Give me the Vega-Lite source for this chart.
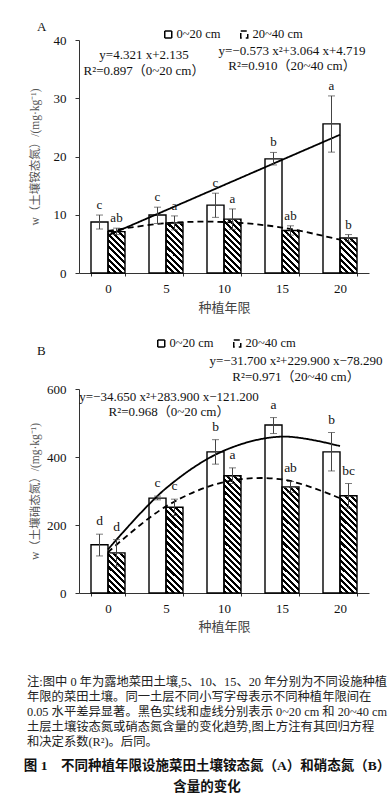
{
"$schema": "https://vega.github.io/schema/vega-lite/v6.json",
"background": "white",
"padding": {"left": 23, "top": 21, "right": 0, "bottom": 0},
"config": {
  "view": {"stroke": null},
  "font": "Liberation Serif, Noto Sans CJK SC",
  "axis": {"grid": false, "domainColor": "#333", "tickColor": "#333", "labelColor": "#111", "labelFont": "Liberation Serif", "labelFontSize": 13, "titleFont": "Liberation Serif, Noto Sans CJK SC", "titleFontWeight": "normal", "titleColor": "#444"},
  "legend": {"symbolType": "square", "symbolSize": 49, "symbolStrokeColor": "#000", "symbolStrokeWidth": 1.5, "labelFont": "Liberation Serif", "labelFontSize": 12.5, "labelColor": "#111", "labelOffset": 2, "columnPadding": 16, "padding": 0}
},
"datasets": {
  "barsA": [
    {"year": "0", "depth": "0~20 cm", "value": 8.75, "lo": 7.55, "hi": 9.95, "letter": "c"},
    {"year": "5", "depth": "0~20 cm", "value": 9.95, "lo": 8.5, "hi": 11.3, "letter": "c"},
    {"year": "10", "depth": "0~20 cm", "value": 11.65, "lo": 9.55, "hi": 13.7, "letter": "c"},
    {"year": "15", "depth": "0~20 cm", "value": 19.6, "lo": 18.55, "hi": 20.7, "letter": "b"},
    {"year": "20", "depth": "0~20 cm", "value": 25.6, "lo": 20.75, "hi": 30.4, "letter": "a"},
    {"year": "0", "depth": "20~40 cm", "value": 7.1, "lo": 6.6, "hi": 7.7, "letter": "ab"},
    {"year": "5", "depth": "20~40 cm", "value": 8.6, "lo": 7.4, "hi": 9.8, "letter": "a"},
    {"year": "10", "depth": "20~40 cm", "value": 9.25, "lo": 7.5, "hi": 11.0, "letter": "a"},
    {"year": "15", "depth": "20~40 cm", "value": 7.3, "lo": 6.5, "hi": 8.1, "letter": "ab"},
    {"year": "20", "depth": "20~40 cm", "value": 6.0, "lo": 5.45, "hi": 6.6, "letter": "b"}
  ],
  "fitA": [
    {"year": "0", "depth": "0~20 cm", "fit": 6.456},
    {"year": "5", "depth": "0~20 cm", "fit": 10.777},
    {"year": "10", "depth": "0~20 cm", "fit": 15.098},
    {"year": "15", "depth": "0~20 cm", "fit": 19.419},
    {"year": "20", "depth": "0~20 cm", "fit": 23.74},
    {"year": "0", "depth": "20~40 cm", "fit": 7.21},
    {"year": "5", "depth": "20~40 cm", "fit": 8.555},
    {"year": "10", "depth": "20~40 cm", "fit": 8.754},
    {"year": "15", "depth": "20~40 cm", "fit": 7.807},
    {"year": "20", "depth": "20~40 cm", "fit": 5.714}
  ],
  "barsB": [
    {"year": "0", "depth": "0~20 cm", "value": 142, "lo": 109, "hi": 173, "letter": "d"},
    {"year": "5", "depth": "0~20 cm", "value": 279, "lo": 274, "hi": 285, "letter": "c"},
    {"year": "10", "depth": "0~20 cm", "value": 415, "lo": 379, "hi": 451, "letter": "b"},
    {"year": "15", "depth": "0~20 cm", "value": 494, "lo": 469, "hi": 516, "letter": "a"},
    {"year": "20", "depth": "0~20 cm", "value": 415, "lo": 359, "hi": 472, "letter": "b"},
    {"year": "0", "depth": "20~40 cm", "value": 118, "lo": 79, "hi": 157, "letter": "d"},
    {"year": "5", "depth": "20~40 cm", "value": 252, "lo": 228, "hi": 276, "letter": "c"},
    {"year": "10", "depth": "20~40 cm", "value": 345, "lo": 322, "hi": 368, "letter": "a"},
    {"year": "15", "depth": "20~40 cm", "value": 312, "lo": 296, "hi": 328, "letter": "ab"},
    {"year": "20", "depth": "20~40 cm", "value": 286, "lo": 250, "hi": 322, "letter": "bc"}
  ],
  "fitB": [
    {"year": "0", "depth": "0~20 cm", "fit": 128.05},
    {"year": "5", "depth": "0~20 cm", "fit": 308.0},
    {"year": "10", "depth": "0~20 cm", "fit": 418.65},
    {"year": "15", "depth": "0~20 cm", "fit": 460.0},
    {"year": "20", "depth": "0~20 cm", "fit": 432.05},
    {"year": "0", "depth": "20~40 cm", "fit": 119.91},
    {"year": "5", "depth": "20~40 cm", "fit": 254.71},
    {"year": "10", "depth": "20~40 cm", "fit": 326.11},
    {"year": "15", "depth": "20~40 cm", "fit": 334.11},
    {"year": "20", "depth": "20~40 cm", "fit": 278.71}
  ]
},
"title": {"text": ["图 1　不同种植年限设施菜田土壤铵态氮（A）和硝态氮（B）", "含量的变化"], "orient": "bottom", "anchor": "middle", "fontSize": 13.5, "lineHeight": 21, "fontWeight": "bold", "font": "Liberation Serif, Noto Sans CJK SC", "color": "#111", "offset": 11},
"vconcat": [
{
  "title": {"text": ["注:图中 0 年为露地菜田土壤,5、10、15、20 年分别为不同设施种植", "年限的菜田土壤。同一土层不同小写字母表示不同种植年限间在", "0.05 水平差异显著。黑色实线和虚线分别表示 0~20 cm 和 20~40 cm", "土层土壤铵态氮或硝态氮含量的变化趋势,图上方注有其回归方程", "和决定系数(R²)。后同。"], "orient": "bottom", "anchor": "start", "frame": "bounds", "align": "left", "fontSize": 12.3, "lineHeight": 15, "font": "Liberation Serif, Noto Sans CJK SC", "fontWeight": "normal", "color": "#222", "offset": 43, "dx": -2},
  "bounds": "flush",
  "spacing": 116,
  "resolve": {"scale": {"fill": "independent", "strokeDash": "independent", "xOffset": "independent"}, "legend": {"fill": "independent", "strokeDash": "independent"}},
  "vconcat": [
  {
    "width": 290, "height": 233,
    "title": {"text": "A", "anchor": "start", "frame": "bounds", "fontSize": 13, "font": "Liberation Serif", "fontWeight": "normal", "color": "#111", "offset": 0, "dx": 8, "dy": 6},
    "encoding": {"x": {"field": "year", "type": "ordinal", "title": "种植年限", "scale": {"type": "band", "domain": ["0", "5", "10", "15", "20"], "paddingInner": 0.4137931, "paddingOuter": 0.2068966}, "axis": {"labelAngle": 0, "tickBand": "extent", "tickSize": 3, "labelPadding": 6, "titlePadding": 6, "titleFontSize": 13, "titleFont": "Noto Sans CJK SC"}}},
    "layer": [
      {"data": {"name": "barsA"}, "transform": [{"filter": "datum.depth === '20~40 cm'"}],
       "mark": {"type": "bar", "stroke": null, "fill": {"gradient": "linear", "x1": 0, "y1": 1, "x2": 0.07787, "y2": -0.06728, "stops": [{"offset":0,"color":"#000"},{"offset":0.0125,"color":"#000"},{"offset":0.0125,"color":"#fff"},{"offset":0.025,"color":"#fff"},{"offset":0.025,"color":"#000"},{"offset":0.0375,"color":"#000"},{"offset":0.0375,"color":"#fff"},{"offset":0.05,"color":"#fff"},{"offset":0.05,"color":"#000"},{"offset":0.0625,"color":"#000"},{"offset":0.0625,"color":"#fff"},{"offset":0.075,"color":"#fff"},{"offset":0.075,"color":"#000"},{"offset":0.0875,"color":"#000"},{"offset":0.0875,"color":"#fff"},{"offset":0.1,"color":"#fff"},{"offset":0.1,"color":"#000"},{"offset":0.1125,"color":"#000"},{"offset":0.1125,"color":"#fff"},{"offset":0.125,"color":"#fff"},{"offset":0.125,"color":"#000"},{"offset":0.1375,"color":"#000"},{"offset":0.1375,"color":"#fff"},{"offset":0.15,"color":"#fff"},{"offset":0.15,"color":"#000"},{"offset":0.1625,"color":"#000"},{"offset":0.1625,"color":"#fff"},{"offset":0.175,"color":"#fff"},{"offset":0.175,"color":"#000"},{"offset":0.1875,"color":"#000"},{"offset":0.1875,"color":"#fff"},{"offset":0.2,"color":"#fff"},{"offset":0.2,"color":"#000"},{"offset":0.2125,"color":"#000"},{"offset":0.2125,"color":"#fff"},{"offset":0.225,"color":"#fff"},{"offset":0.225,"color":"#000"},{"offset":0.2375,"color":"#000"},{"offset":0.2375,"color":"#fff"},{"offset":0.25,"color":"#fff"},{"offset":0.25,"color":"#000"},{"offset":0.2625,"color":"#000"},{"offset":0.2625,"color":"#fff"},{"offset":0.275,"color":"#fff"},{"offset":0.275,"color":"#000"},{"offset":0.2875,"color":"#000"},{"offset":0.2875,"color":"#fff"},{"offset":0.3,"color":"#fff"},{"offset":0.3,"color":"#000"},{"offset":0.3125,"color":"#000"},{"offset":0.3125,"color":"#fff"},{"offset":0.325,"color":"#fff"},{"offset":0.325,"color":"#000"},{"offset":0.3375,"color":"#000"},{"offset":0.3375,"color":"#fff"},{"offset":0.35,"color":"#fff"},{"offset":0.35,"color":"#000"},{"offset":0.3625,"color":"#000"},{"offset":0.3625,"color":"#fff"},{"offset":0.375,"color":"#fff"},{"offset":0.375,"color":"#000"},{"offset":0.3875,"color":"#000"},{"offset":0.3875,"color":"#fff"},{"offset":0.4,"color":"#fff"},{"offset":0.4,"color":"#000"},{"offset":0.4125,"color":"#000"},{"offset":0.4125,"color":"#fff"},{"offset":0.425,"color":"#fff"},{"offset":0.425,"color":"#000"},{"offset":0.4375,"color":"#000"},{"offset":0.4375,"color":"#fff"},{"offset":0.45,"color":"#fff"},{"offset":0.45,"color":"#000"},{"offset":0.4625,"color":"#000"},{"offset":0.4625,"color":"#fff"},{"offset":0.475,"color":"#fff"},{"offset":0.475,"color":"#000"},{"offset":0.4875,"color":"#000"},{"offset":0.4875,"color":"#fff"},{"offset":0.5,"color":"#fff"},{"offset":0.5,"color":"#000"},{"offset":0.5125,"color":"#000"},{"offset":0.5125,"color":"#fff"},{"offset":0.525,"color":"#fff"},{"offset":0.525,"color":"#000"},{"offset":0.5375,"color":"#000"},{"offset":0.5375,"color":"#fff"},{"offset":0.55,"color":"#fff"},{"offset":0.55,"color":"#000"},{"offset":0.5625,"color":"#000"},{"offset":0.5625,"color":"#fff"},{"offset":0.575,"color":"#fff"},{"offset":0.575,"color":"#000"},{"offset":0.5875,"color":"#000"},{"offset":0.5875,"color":"#fff"},{"offset":0.6,"color":"#fff"},{"offset":0.6,"color":"#000"},{"offset":0.6125,"color":"#000"},{"offset":0.6125,"color":"#fff"},{"offset":0.625,"color":"#fff"},{"offset":0.625,"color":"#000"},{"offset":0.6375,"color":"#000"},{"offset":0.6375,"color":"#fff"},{"offset":0.65,"color":"#fff"},{"offset":0.65,"color":"#000"},{"offset":0.6625,"color":"#000"},{"offset":0.6625,"color":"#fff"},{"offset":0.675,"color":"#fff"},{"offset":0.675,"color":"#000"},{"offset":0.6875,"color":"#000"},{"offset":0.6875,"color":"#fff"},{"offset":0.7,"color":"#fff"},{"offset":0.7,"color":"#000"},{"offset":0.7125,"color":"#000"},{"offset":0.7125,"color":"#fff"},{"offset":0.725,"color":"#fff"},{"offset":0.725,"color":"#000"},{"offset":0.7375,"color":"#000"},{"offset":0.7375,"color":"#fff"},{"offset":0.75,"color":"#fff"},{"offset":0.75,"color":"#000"},{"offset":0.7625,"color":"#000"},{"offset":0.7625,"color":"#fff"},{"offset":0.775,"color":"#fff"},{"offset":0.775,"color":"#000"},{"offset":0.7875,"color":"#000"},{"offset":0.7875,"color":"#fff"},{"offset":0.8,"color":"#fff"},{"offset":0.8,"color":"#000"},{"offset":0.8125,"color":"#000"},{"offset":0.8125,"color":"#fff"},{"offset":0.825,"color":"#fff"},{"offset":0.825,"color":"#000"},{"offset":0.8375,"color":"#000"},{"offset":0.8375,"color":"#fff"},{"offset":0.85,"color":"#fff"},{"offset":0.85,"color":"#000"},{"offset":0.8625,"color":"#000"},{"offset":0.8625,"color":"#fff"},{"offset":0.875,"color":"#fff"},{"offset":0.875,"color":"#000"},{"offset":0.8875,"color":"#000"},{"offset":0.8875,"color":"#fff"},{"offset":0.9,"color":"#fff"},{"offset":0.9,"color":"#000"},{"offset":0.9125,"color":"#000"},{"offset":0.9125,"color":"#fff"},{"offset":0.925,"color":"#fff"},{"offset":0.925,"color":"#000"},{"offset":0.9375,"color":"#000"},{"offset":0.9375,"color":"#fff"},{"offset":0.95,"color":"#fff"},{"offset":0.95,"color":"#000"},{"offset":0.9625,"color":"#000"},{"offset":0.9625,"color":"#fff"},{"offset":0.975,"color":"#fff"},{"offset":0.975,"color":"#000"},{"offset":0.9875,"color":"#000"},{"offset":0.9875,"color":"#fff"},{"offset":1,"color":"#fff"}]}},
       "encoding": {"xOffset": {"field": "depth", "type": "nominal", "scale": {"domain": ["0~20 cm", "20~40 cm"], "paddingInner": 0, "paddingOuter": 0}},
         "y": {"datum": 40, "type": "quantitative", "title": "w（土壤铵态氮）/(mg·kg⁻¹)", "scale": {"domain": [0, 40], "nice": false}, "axis": {"values": [0, 5, 10, 15, 20, 25, 30, 35, 40], "tickSize": 4, "labelPadding": 9, "minExtent": 34, "maxExtent": 34, "titlePadding": 5, "titleFontSize": 11.5, "titleColor": "#555"}},
         "y2": {"datum": 0}}},
      {"data": {"name": "barsA"}, "transform": [{"filter": "datum.depth === '20~40 cm'"}],
       "mark": {"type": "bar", "fill": "white", "stroke": "white", "strokeWidth": 1},
       "encoding": {"xOffset": {"field": "depth", "type": "nominal", "scale": {"domain": ["0~20 cm", "20~40 cm"], "paddingInner": 0, "paddingOuter": 0}},
         "y": {"field": "value", "type": "quantitative", "title": "w（土壤铵态氮）/(mg·kg⁻¹)"}, "y2": {"datum": 40}}},
      {"data": {"name": "barsA"},
       "mark": {"type": "bar", "stroke": "#000", "strokeWidth": 1.4},
       "encoding": {"xOffset": {"field": "depth", "type": "nominal", "scale": {"domain": ["0~20 cm", "20~40 cm"], "paddingInner": 0, "paddingOuter": 0}},
         "y": {"field": "value", "type": "quantitative", "title": "w（土壤铵态氮）/(mg·kg⁻¹)"},
         "fill": {"field": "depth", "type": "nominal", "scale": {"domain": ["0~20 cm", "20~40 cm"], "range": ["white", "transparent"]}, "legend": {"orient": "none", "legendX": 83, "legendY": -12, "direction": "horizontal", "title": null}}}},
      {"data": {"name": "fitA"},
       "mark": {"type": "line", "interpolate": "catmull-rom", "color": "#000", "strokeWidth": 1.8},
       "encoding": {"y": {"field": "fit", "type": "quantitative", "title": "w（土壤铵态氮）/(mg·kg⁻¹)"},
         "strokeDash": {"field": "depth", "type": "nominal", "scale": {"domain": ["0~20 cm", "20~40 cm"], "range": [[1, 0], [6, 4]]}, "legend": null}}},
      {"data": {"name": "barsA"},
       "mark": {"type": "rule", "color": "#444", "strokeWidth": 1},
       "encoding": {"xOffset": {"field": "depth", "type": "nominal", "scale": {"domain": ["0~20 cm", "20~40 cm"], "paddingInner": 0, "paddingOuter": 0}},
         "y": {"field": "lo", "type": "quantitative", "title": "w（土壤铵态氮）/(mg·kg⁻¹)"}, "y2": {"field": "hi"}}},
      {"data": {"name": "barsA"},
       "mark": {"type": "tick", "orient": "horizontal", "color": "#444", "size": 7, "thickness": 1},
       "encoding": {"xOffset": {"field": "depth", "type": "nominal", "scale": {"domain": ["0~20 cm", "20~40 cm"], "paddingInner": 0, "paddingOuter": 0}},
         "y": {"field": "lo", "type": "quantitative", "title": "w（土壤铵态氮）/(mg·kg⁻¹)"}}},
      {"data": {"name": "barsA"},
       "mark": {"type": "tick", "orient": "horizontal", "color": "#444", "size": 7, "thickness": 1},
       "encoding": {"xOffset": {"field": "depth", "type": "nominal", "scale": {"domain": ["0~20 cm", "20~40 cm"], "paddingInner": 0, "paddingOuter": 0}},
         "y": {"field": "hi", "type": "quantitative", "title": "w（土壤铵态氮）/(mg·kg⁻¹)"}}},
      {"data": {"name": "barsA"},
       "mark": {"type": "text", "baseline": "bottom", "dy": -3, "fontSize": 13, "font": "Liberation Serif", "color": "#111"},
       "encoding": {"xOffset": {"field": "depth", "type": "nominal", "scale": {"domain": ["0~20 cm", "20~40 cm"], "paddingInner": 0, "paddingOuter": 0}},
         "y": {"field": "hi", "type": "quantitative", "title": "w（土壤铵态氮）/(mg·kg⁻¹)"}, "text": {"field": "letter"}}},
      {"data": {"values": [{"k": 1}]},
       "mark": {"type": "text", "align": "center", "baseline": "alphabetic", "fontSize": 13, "lineHeight": 16, "dx": 36, "color": "#111"},
       "encoding": {"x": {"datum": "0", "type": "ordinal", "title": "种植年限"}, "y": {"datum": 36.8, "type": "quantitative", "title": "w（土壤铵态氮）/(mg·kg⁻¹)"},
         "text": {"value": ["y=4.321 x+2.135", "R²=0.897（0~20 cm）"]}}},
      {"data": {"values": [{"k": 1}]},
       "mark": {"type": "text", "align": "center", "baseline": "alphabetic", "fontSize": 13, "lineHeight": 15, "dx": 10, "color": "#111"},
       "encoding": {"x": {"datum": "15", "type": "ordinal", "title": "种植年限"}, "y": {"datum": 37.5, "type": "quantitative", "title": "w（土壤铵态氮）/(mg·kg⁻¹)"},
         "text": {"value": ["y=−0.573 x²+3.064 x+4.719", "R²=0.910（20~40 cm）"]}}}
    ]
  },
  {
    "width": 290, "height": 204,
    "title": {"text": "B", "anchor": "start", "frame": "bounds", "fontSize": 13, "font": "Liberation Serif", "fontWeight": "normal", "color": "#111", "offset": 0, "dx": 8, "dy": 21},
    "encoding": {"x": {"field": "year", "type": "ordinal", "title": "种植年限", "scale": {"type": "band", "domain": ["0", "5", "10", "15", "20"], "paddingInner": 0.4137931, "paddingOuter": 0.2068966}, "axis": {"labelAngle": 0, "tickBand": "extent", "tickSize": 3, "labelPadding": 6, "titlePadding": 5, "titleFontSize": 13, "titleFont": "Noto Sans CJK SC"}}},
    "layer": [
      {"data": {"name": "barsB"}, "transform": [{"filter": "datum.depth === '20~40 cm'"}],
       "mark": {"type": "bar", "stroke": null, "fill": {"gradient": "linear", "x1": 0, "y1": 1, "x2": 0.07787, "y2": -0.06728, "stops": [{"offset":0,"color":"#000"},{"offset":0.0125,"color":"#000"},{"offset":0.0125,"color":"#fff"},{"offset":0.025,"color":"#fff"},{"offset":0.025,"color":"#000"},{"offset":0.0375,"color":"#000"},{"offset":0.0375,"color":"#fff"},{"offset":0.05,"color":"#fff"},{"offset":0.05,"color":"#000"},{"offset":0.0625,"color":"#000"},{"offset":0.0625,"color":"#fff"},{"offset":0.075,"color":"#fff"},{"offset":0.075,"color":"#000"},{"offset":0.0875,"color":"#000"},{"offset":0.0875,"color":"#fff"},{"offset":0.1,"color":"#fff"},{"offset":0.1,"color":"#000"},{"offset":0.1125,"color":"#000"},{"offset":0.1125,"color":"#fff"},{"offset":0.125,"color":"#fff"},{"offset":0.125,"color":"#000"},{"offset":0.1375,"color":"#000"},{"offset":0.1375,"color":"#fff"},{"offset":0.15,"color":"#fff"},{"offset":0.15,"color":"#000"},{"offset":0.1625,"color":"#000"},{"offset":0.1625,"color":"#fff"},{"offset":0.175,"color":"#fff"},{"offset":0.175,"color":"#000"},{"offset":0.1875,"color":"#000"},{"offset":0.1875,"color":"#fff"},{"offset":0.2,"color":"#fff"},{"offset":0.2,"color":"#000"},{"offset":0.2125,"color":"#000"},{"offset":0.2125,"color":"#fff"},{"offset":0.225,"color":"#fff"},{"offset":0.225,"color":"#000"},{"offset":0.2375,"color":"#000"},{"offset":0.2375,"color":"#fff"},{"offset":0.25,"color":"#fff"},{"offset":0.25,"color":"#000"},{"offset":0.2625,"color":"#000"},{"offset":0.2625,"color":"#fff"},{"offset":0.275,"color":"#fff"},{"offset":0.275,"color":"#000"},{"offset":0.2875,"color":"#000"},{"offset":0.2875,"color":"#fff"},{"offset":0.3,"color":"#fff"},{"offset":0.3,"color":"#000"},{"offset":0.3125,"color":"#000"},{"offset":0.3125,"color":"#fff"},{"offset":0.325,"color":"#fff"},{"offset":0.325,"color":"#000"},{"offset":0.3375,"color":"#000"},{"offset":0.3375,"color":"#fff"},{"offset":0.35,"color":"#fff"},{"offset":0.35,"color":"#000"},{"offset":0.3625,"color":"#000"},{"offset":0.3625,"color":"#fff"},{"offset":0.375,"color":"#fff"},{"offset":0.375,"color":"#000"},{"offset":0.3875,"color":"#000"},{"offset":0.3875,"color":"#fff"},{"offset":0.4,"color":"#fff"},{"offset":0.4,"color":"#000"},{"offset":0.4125,"color":"#000"},{"offset":0.4125,"color":"#fff"},{"offset":0.425,"color":"#fff"},{"offset":0.425,"color":"#000"},{"offset":0.4375,"color":"#000"},{"offset":0.4375,"color":"#fff"},{"offset":0.45,"color":"#fff"},{"offset":0.45,"color":"#000"},{"offset":0.4625,"color":"#000"},{"offset":0.4625,"color":"#fff"},{"offset":0.475,"color":"#fff"},{"offset":0.475,"color":"#000"},{"offset":0.4875,"color":"#000"},{"offset":0.4875,"color":"#fff"},{"offset":0.5,"color":"#fff"},{"offset":0.5,"color":"#000"},{"offset":0.5125,"color":"#000"},{"offset":0.5125,"color":"#fff"},{"offset":0.525,"color":"#fff"},{"offset":0.525,"color":"#000"},{"offset":0.5375,"color":"#000"},{"offset":0.5375,"color":"#fff"},{"offset":0.55,"color":"#fff"},{"offset":0.55,"color":"#000"},{"offset":0.5625,"color":"#000"},{"offset":0.5625,"color":"#fff"},{"offset":0.575,"color":"#fff"},{"offset":0.575,"color":"#000"},{"offset":0.5875,"color":"#000"},{"offset":0.5875,"color":"#fff"},{"offset":0.6,"color":"#fff"},{"offset":0.6,"color":"#000"},{"offset":0.6125,"color":"#000"},{"offset":0.6125,"color":"#fff"},{"offset":0.625,"color":"#fff"},{"offset":0.625,"color":"#000"},{"offset":0.6375,"color":"#000"},{"offset":0.6375,"color":"#fff"},{"offset":0.65,"color":"#fff"},{"offset":0.65,"color":"#000"},{"offset":0.6625,"color":"#000"},{"offset":0.6625,"color":"#fff"},{"offset":0.675,"color":"#fff"},{"offset":0.675,"color":"#000"},{"offset":0.6875,"color":"#000"},{"offset":0.6875,"color":"#fff"},{"offset":0.7,"color":"#fff"},{"offset":0.7,"color":"#000"},{"offset":0.7125,"color":"#000"},{"offset":0.7125,"color":"#fff"},{"offset":0.725,"color":"#fff"},{"offset":0.725,"color":"#000"},{"offset":0.7375,"color":"#000"},{"offset":0.7375,"color":"#fff"},{"offset":0.75,"color":"#fff"},{"offset":0.75,"color":"#000"},{"offset":0.7625,"color":"#000"},{"offset":0.7625,"color":"#fff"},{"offset":0.775,"color":"#fff"},{"offset":0.775,"color":"#000"},{"offset":0.7875,"color":"#000"},{"offset":0.7875,"color":"#fff"},{"offset":0.8,"color":"#fff"},{"offset":0.8,"color":"#000"},{"offset":0.8125,"color":"#000"},{"offset":0.8125,"color":"#fff"},{"offset":0.825,"color":"#fff"},{"offset":0.825,"color":"#000"},{"offset":0.8375,"color":"#000"},{"offset":0.8375,"color":"#fff"},{"offset":0.85,"color":"#fff"},{"offset":0.85,"color":"#000"},{"offset":0.8625,"color":"#000"},{"offset":0.8625,"color":"#fff"},{"offset":0.875,"color":"#fff"},{"offset":0.875,"color":"#000"},{"offset":0.8875,"color":"#000"},{"offset":0.8875,"color":"#fff"},{"offset":0.9,"color":"#fff"},{"offset":0.9,"color":"#000"},{"offset":0.9125,"color":"#000"},{"offset":0.9125,"color":"#fff"},{"offset":0.925,"color":"#fff"},{"offset":0.925,"color":"#000"},{"offset":0.9375,"color":"#000"},{"offset":0.9375,"color":"#fff"},{"offset":0.95,"color":"#fff"},{"offset":0.95,"color":"#000"},{"offset":0.9625,"color":"#000"},{"offset":0.9625,"color":"#fff"},{"offset":0.975,"color":"#fff"},{"offset":0.975,"color":"#000"},{"offset":0.9875,"color":"#000"},{"offset":0.9875,"color":"#fff"},{"offset":1,"color":"#fff"}]}},
       "encoding": {"xOffset": {"field": "depth", "type": "nominal", "scale": {"domain": ["0~20 cm", "20~40 cm"], "paddingInner": 0, "paddingOuter": 0}},
         "y": {"datum": 685.294, "type": "quantitative", "title": "w（土壤硝态氮）/(mg·kg⁻¹)", "scale": {"domain": [0, 600], "nice": false}, "axis": {"values": [0, 100, 200, 300, 400, 500, 600], "tickSize": 4, "labelPadding": 9, "minExtent": 34, "maxExtent": 34, "titlePadding": 5, "titleFontSize": 11.5, "titleColor": "#555"}},
         "y2": {"datum": 0}}},
      {"data": {"name": "barsB"}, "transform": [{"filter": "datum.depth === '20~40 cm'"}],
       "mark": {"type": "bar", "fill": "white", "stroke": "white", "strokeWidth": 1},
       "encoding": {"xOffset": {"field": "depth", "type": "nominal", "scale": {"domain": ["0~20 cm", "20~40 cm"], "paddingInner": 0, "paddingOuter": 0}},
         "y": {"field": "value", "type": "quantitative", "title": "w（土壤硝态氮）/(mg·kg⁻¹)"}, "y2": {"datum": 685.294}}},
      {"data": {"name": "barsB"},
       "mark": {"type": "bar", "stroke": "#000", "strokeWidth": 1.4},
       "encoding": {"xOffset": {"field": "depth", "type": "nominal", "scale": {"domain": ["0~20 cm", "20~40 cm"], "paddingInner": 0, "paddingOuter": 0}},
         "y": {"field": "value", "type": "quantitative", "title": "w（土壤硝态氮）/(mg·kg⁻¹)"},
         "fill": {"field": "depth", "type": "nominal", "scale": {"domain": ["0~20 cm", "20~40 cm"], "range": ["white", "transparent"]}, "legend": {"orient": "none", "legendX": 76, "legendY": -52, "direction": "horizontal", "title": null}}}},
      {"data": {"name": "fitB"},
       "mark": {"type": "line", "interpolate": "catmull-rom", "color": "#000", "strokeWidth": 1.8},
       "encoding": {"y": {"field": "fit", "type": "quantitative", "title": "w（土壤硝态氮）/(mg·kg⁻¹)"},
         "strokeDash": {"field": "depth", "type": "nominal", "scale": {"domain": ["0~20 cm", "20~40 cm"], "range": [[1, 0], [6, 4]]}, "legend": null}}},
      {"data": {"name": "barsB"},
       "mark": {"type": "rule", "color": "#444", "strokeWidth": 1},
       "encoding": {"xOffset": {"field": "depth", "type": "nominal", "scale": {"domain": ["0~20 cm", "20~40 cm"], "paddingInner": 0, "paddingOuter": 0}},
         "y": {"field": "lo", "type": "quantitative", "title": "w（土壤硝态氮）/(mg·kg⁻¹)"}, "y2": {"field": "hi"}}},
      {"data": {"name": "barsB"},
       "mark": {"type": "tick", "orient": "horizontal", "color": "#444", "size": 7, "thickness": 1},
       "encoding": {"xOffset": {"field": "depth", "type": "nominal", "scale": {"domain": ["0~20 cm", "20~40 cm"], "paddingInner": 0, "paddingOuter": 0}},
         "y": {"field": "lo", "type": "quantitative", "title": "w（土壤硝态氮）/(mg·kg⁻¹)"}}},
      {"data": {"name": "barsB"},
       "mark": {"type": "tick", "orient": "horizontal", "color": "#444", "size": 7, "thickness": 1},
       "encoding": {"xOffset": {"field": "depth", "type": "nominal", "scale": {"domain": ["0~20 cm", "20~40 cm"], "paddingInner": 0, "paddingOuter": 0}},
         "y": {"field": "hi", "type": "quantitative", "title": "w（土壤硝态氮）/(mg·kg⁻¹)"}}},
      {"data": {"name": "barsB"},
       "mark": {"type": "text", "baseline": "bottom", "dy": -6, "fontSize": 13.5, "font": "Liberation Serif", "color": "#111"},
       "encoding": {"xOffset": {"field": "depth", "type": "nominal", "scale": {"domain": ["0~20 cm", "20~40 cm"], "paddingInner": 0, "paddingOuter": 0}},
         "y": {"field": "hi", "type": "quantitative", "title": "w（土壤硝态氮）/(mg·kg⁻¹)"}, "text": {"field": "letter"}}},
      {"data": {"values": [{"k": 1}]},
       "mark": {"type": "text", "align": "center", "baseline": "alphabetic", "fontSize": 13, "lineHeight": 15, "dx": 3, "color": "#111"},
       "encoding": {"x": {"datum": "5", "type": "ordinal", "title": "种植年限"}, "y": {"datum": 566, "type": "quantitative", "title": "w（土壤硝态氮）/(mg·kg⁻¹)"},
         "text": {"value": ["y=−34.650 x²+283.900 x−121.200", "R²=0.968（0~20 cm）"]}}},
      {"data": {"values": [{"k": 1}]},
       "mark": {"type": "text", "align": "center", "baseline": "alphabetic", "fontSize": 13, "lineHeight": 16, "dx": 14, "color": "#111"},
       "encoding": {"x": {"datum": "15", "type": "ordinal", "title": "种植年限"}, "y": {"datum": 672, "type": "quantitative", "title": "w（土壤硝态氮）/(mg·kg⁻¹)"},
         "text": {"value": ["y=−31.700 x²+229.900 x−78.290", "R²=0.971（20~40 cm）"]}}}
    ]
  }
  ]
}
]
}
